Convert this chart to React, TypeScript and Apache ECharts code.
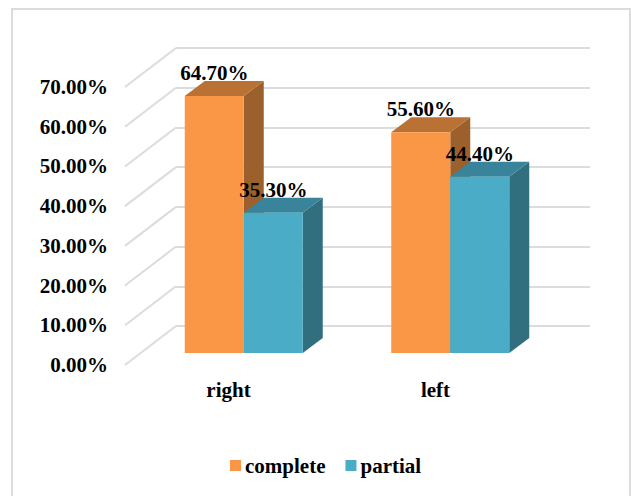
import React, { useEffect, useRef } from "react";
import * as echarts from "echarts";

const categories = ["right", "left"];
const completeValues = [64.7, 55.6];
const partialValues = [35.3, 44.4];
const tickValues = [0, 10, 20, 30, 40, 50, 60, 70];

const FONT = '"Liberation Serif", "Times New Roman", serif';
const GRID_LINE = "#dcdcdc";
const TEXT = "#000000";
const DEPTH_X = 20;
const DEPTH_Y = 15;
const BAR_SHARE = 59 / 206.5;

const fmt = (v: number) => `${v.toFixed(2)}%`;

const barRenderer = (side: -1 | 1, front: string, top: string, right: string) =>
  (_params: any, api: any) => {
    const idx = api.value(0);
    const val = api.value(1);
    const [cx, yTop] = api.coord([idx, val]);
    const [, yBase] = api.coord([idx, 0]);
    const w = api.size([1, 0])[0] * BAR_SHARE;
    const x0 = side < 0 ? cx - w : cx;
    const x1 = x0 + w;
    return {
      type: "group",
      children: [
        {
          type: "polygon",
          shape: {
            points: [
              [x1, yTop],
              [x1 + DEPTH_X, yTop - DEPTH_Y],
              [x1 + DEPTH_X, yBase - DEPTH_Y],
              [x1, yBase],
            ],
          },
          style: { fill: right },
        },
        {
          type: "polygon",
          shape: {
            points: [
              [x0, yTop],
              [x0 + DEPTH_X, yTop - DEPTH_Y],
              [x1 + DEPTH_X, yTop - DEPTH_Y],
              [x1, yTop],
            ],
          },
          style: { fill: top },
        },
        { type: "rect", shape: { x: x0, y: yTop, width: w, height: yBase - yTop }, style: { fill: front } },
        {
          type: "text",
          z2: 100,
          style: {
            text: fmt(val),
            x: (x0 + x1) / 2,
            y: yTop - 23,
            align: "center",
            verticalAlign: "middle",
            font: `bold 21px ${FONT}`,
            fill: TEXT,
          },
        },
      ],
    };
  };

export default function App() {
  const ref = useRef<HTMLDivElement>(null);
  useEffect(() => {
    document.body.style.margin = "0";
    const chart = echarts.init(ref.current!, undefined, { renderer: "svg" });
    const hiddenCat = (gridIndex: number) => ({
      type: "category" as const,
      gridIndex,
      data: categories,
      axisLine: { show: false },
      axisTick: { show: false },
      axisLabel: { show: false },
    });
    chart.setOption({
      animation: false,
      backgroundColor: "#ffffff",
      color: ["#F99746", "#4AACC7"],
      graphic: [
        {
          type: "rect",
          shape: { x: 12, y: 9, width: 618, height: 510 },
          style: { fill: "none", stroke: GRID_LINE, lineWidth: 2 },
          silent: true,
        },
      ],
      grid: [
        { left: 176, width: 414, top: 48, height: 278 },
        { left: 125, width: 414, top: 87, height: 278 },
        { left: 140.5, width: 413, top: 75, height: 278 },
      ],
      xAxis: [
        hiddenCat(0),
        {
          type: "category",
          gridIndex: 1,
          data: categories,
          axisLine: { show: false },
          axisTick: { show: false },
          axisLabel: {
            margin: 14,
            color: TEXT,
            fontFamily: FONT,
            fontWeight: "bold",
            fontSize: 21,
          },
        },
        hiddenCat(2),
      ],
      yAxis: [
        {
          type: "value",
          gridIndex: 0,
          min: 0,
          max: 70,
          interval: 10,
          axisLine: { show: false },
          axisTick: { show: false },
          axisLabel: { show: false },
          splitLine: { show: true, lineStyle: { color: GRID_LINE, width: 2 } },
        },
        {
          type: "value",
          gridIndex: 1,
          min: 0,
          max: 70,
          interval: 10,
          axisLine: { show: false },
          axisTick: { show: false },
          splitLine: { show: false },
          axisLabel: {
            margin: 17,
            formatter: (v: number) => fmt(v),
            color: TEXT,
            fontFamily: FONT,
            fontWeight: "bold",
            fontSize: 21,
          },
        },
        {
          type: "value",
          gridIndex: 2,
          min: 0,
          max: 70,
          interval: 10,
          axisLine: { show: false },
          axisTick: { show: false },
          axisLabel: { show: false },
          splitLine: { show: false },
        },
      ],
      legend: {
        data: ["complete", "partial"],
        left: 230,
        top: 455,
        padding: 0,
        icon: "rect",
        itemWidth: 11,
        itemHeight: 11,
        itemGap: 20,
        selectedMode: false,
        textStyle: {
          color: TEXT,
          fontFamily: FONT,
          fontWeight: "bold",
          fontSize: 21,
          padding: [0, 0, 0, -1],
        },
      },
      series: [
        {
          name: "wall",
          type: "custom",
          coordinateSystem: "cartesian2d",
          xAxisIndex: 0,
          yAxisIndex: 0,
          silent: true,
          data: tickValues.map((v) => [0, v]),
          renderItem: (params: any, api: any) => {
            const y = api.coord([0, api.value(1)])[1];
            const x = params.coordSys.x;
            return {
              type: "line",
              shape: { x1: x, y1: y, x2: x - 51, y2: y + 39 },
              style: { stroke: GRID_LINE, lineWidth: 2 },
            };
          },
        },
        {
          name: "complete",
          type: "custom",
          coordinateSystem: "cartesian2d",
          xAxisIndex: 2,
          yAxisIndex: 2,
          itemStyle: { color: "#F99746" },
          data: completeValues.map((v, i) => [i, v]),
          renderItem: barRenderer(-1, "#F99746", "#BA7134", "#9C602C"),
        },
        {
          name: "partial",
          type: "custom",
          coordinateSystem: "cartesian2d",
          xAxisIndex: 2,
          yAxisIndex: 2,
          itemStyle: { color: "#4AACC7" },
          data: partialValues.map((v, i) => [i, v]),
          renderItem: barRenderer(1, "#4AACC7", "#39849A", "#316E7E"),
        },
      ],
    });
    return () => chart.dispose();
  }, []);
  return <div ref={ref} style={{ position: "absolute", left: 0, top: 0, width: 631, height: 496 }} />;
}
